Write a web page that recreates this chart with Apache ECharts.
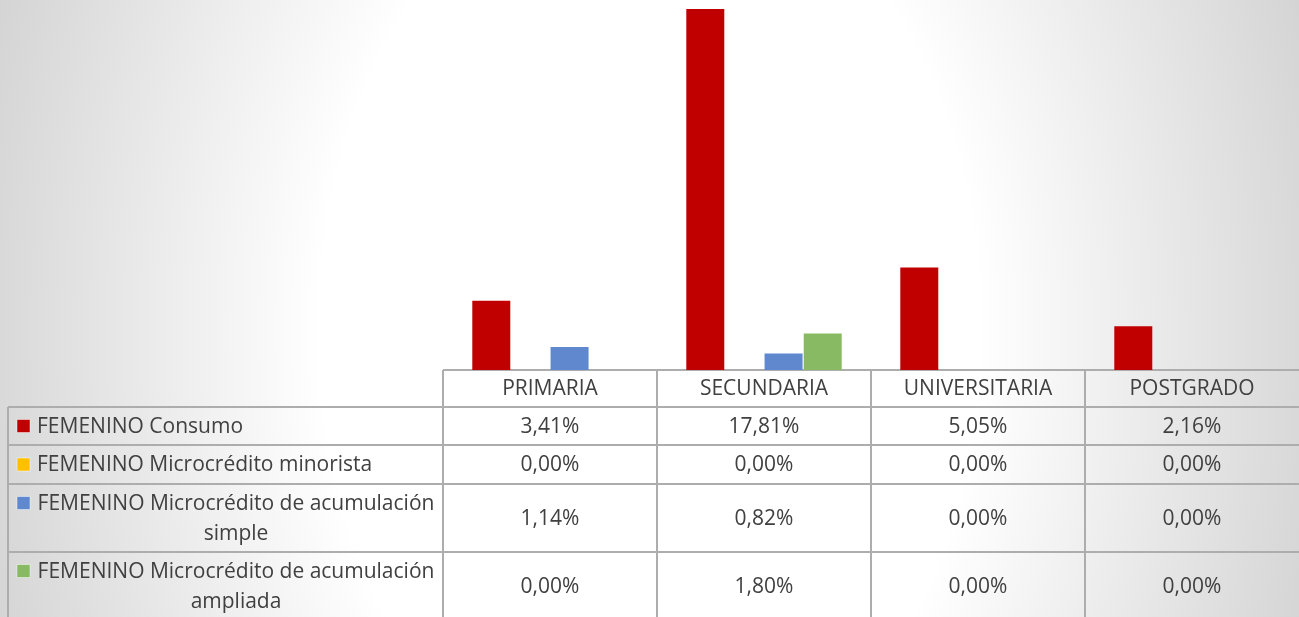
<!DOCTYPE html>
<html>
<head>
<meta charset="utf-8">
<title>FEMENINO</title>
<script src="https://cdn.jsdelivr.net/npm/echarts@6/dist/echarts.min.js"></script>
<style>
    html, body { margin: 0; padding: 0; }
    #chart {
        width: 1299px;
        height: 617px;
        background: radial-gradient(ellipse 700px 1000px at 650px 330px, #ffffff 47%, #d3d3d3 100%);
    }
</style>
</head>
<body>
<div id="chart"></div>
<script>
var categories = ['PRIMARIA', 'SECUNDARIA', 'UNIVERSITARIA', 'POSTGRADO'];
var seriesNames = [
    'FEMENINO Consumo',
    'FEMENINO Microcrédito minorista',
    'FEMENINO Microcrédito de acumulación simple',
    'FEMENINO Microcrédito de acumulación ampliada'
];
// etiquetas de la tabla (con salto de línea como en la original)
var tableLabels = [
    'FEMENINO Consumo',
    'FEMENINO Microcrédito minorista',
    'FEMENINO Microcrédito de acumulación\nsimple',
    'FEMENINO Microcrédito de acumulación\nampliada'
];
var consumo = [3.41, 17.81, 5.05, 2.16];
var minorista = [0.00, 0.00, 0.00, 0.00];
var acumSimple = [1.14, 0.82, 0.00, 0.00];
var acumAmpliada = [0.00, 1.80, 0.00, 0.00];
var colors = ['#C00000', '#FFC000', '#5F88CF', '#87BA63'];

var allData = [consumo, minorista, acumSimple, acumAmpliada];

// geometria de la tabla
var gridLeft = 443;
var chartW = 1299;
var tableTop = 370;
var rowLines = [370, 407, 445, 484, 552, 620];
var colW = (chartW - gridLeft) / categories.length;
var lineColor = '#adadad';
var textColor = '#404040';
var font = '"Open Sans", "Noto Sans", sans-serif';
var fontSize = 21;

function fmt(v) {
    return v.toFixed(2).replace('.', ',') + '%';
}

var graphics = [];

// lineas horizontales
graphics.push({
    type: 'line', silent: true,
    shape: { x1: gridLeft, y1: rowLines[0], x2: chartW, y2: rowLines[0] },
    style: { stroke: lineColor, lineWidth: 2 }
});
for (var i = 1; i < rowLines.length - 1; i++) {
    graphics.push({
        type: 'line', silent: true,
        shape: { x1: 8, y1: rowLines[i], x2: chartW, y2: rowLines[i] },
        style: { stroke: lineColor, lineWidth: 2 }
    });
}
// lineas verticales
graphics.push({
    type: 'line', silent: true,
    shape: { x1: 8, y1: rowLines[1], x2: 8, y2: 617 },
    style: { stroke: lineColor, lineWidth: 2 }
});
for (var c = 0; c < categories.length; c++) {
    var x = gridLeft + c * colW;
    graphics.push({
        type: 'line', silent: true,
        shape: { x1: x, y1: rowLines[0], x2: x, y2: 617 },
        style: { stroke: lineColor, lineWidth: 2 }
    });
    // encabezado
    graphics.push({
        type: 'text', silent: true,
        x: x + colW / 2, y: (rowLines[0] + rowLines[1]) / 2 + 1,
        style: {
            text: categories[c], fill: textColor, font: fontSize + 'px ' + font,
            textAlign: 'center', textVerticalAlign: 'middle'
        }
    });
}

// filas de series
for (var s = 0; s < seriesNames.length; s++) {
    var rowTop = rowLines[s + 1];
    var rowBottom = rowLines[s + 2];
    var mid = (rowTop + rowBottom) / 2;
    var multi = tableLabels[s].indexOf('\n') >= 0;
    var firstLineY = multi ? mid - 15 : mid;

    graphics.push({
        type: 'rect', silent: true,
        shape: { x: 17, y: firstLineY - 6.5, width: 13, height: 13 },
        style: { fill: colors[s], stroke: 'rgba(255,255,255,0.45)', lineWidth: 1 }
    });
    graphics.push({
        type: 'text', silent: true,
        x: multi ? 236 : 37, y: mid + 1,
        style: {
            text: tableLabels[s], fill: textColor, font: fontSize + 'px ' + font,
            textAlign: multi ? 'center' : 'left', textVerticalAlign: 'middle',
            lineHeight: 30
        }
    });
    for (var c2 = 0; c2 < categories.length; c2++) {
        graphics.push({
            type: 'text', silent: true,
            x: gridLeft + c2 * colW + colW / 2, y: mid + 1,
            style: {
                text: fmt(allData[s][c2]), fill: textColor, font: fontSize + 'px ' + font,
                textAlign: 'center', textVerticalAlign: 'middle'
            }
        });
    }
}

var series = seriesNames.map(function (name, i) {
    return {
        name: name,
        type: 'bar',
        data: allData[i],
        barWidth: 38,
        barGap: '3%',
        itemStyle: {
            color: colors[i]
        }
    };
});

var myChart = echarts.init(document.getElementById('chart'), null, { renderer: 'canvas' });
var option = {
    animation: false,
    backgroundColor: 'transparent',
    grid: {
        left: gridLeft,
        right: 0,
        top: 0,
        bottom: 617 - tableTop
    },
    xAxis: {
        type: 'category',
        data: categories,
        axisLine: { show: false },
        axisTick: { show: false },
        axisLabel: { show: false }
    },
    yAxis: {
        type: 'value',
        min: 0,
        max: 18.25,
        show: false,
        splitLine: { show: false }
    },
    legend: { show: false },
    tooltip: { show: false },
    series: series,
    graphic: graphics
};
myChart.setOption(option);
</script>
</body>
</html>
